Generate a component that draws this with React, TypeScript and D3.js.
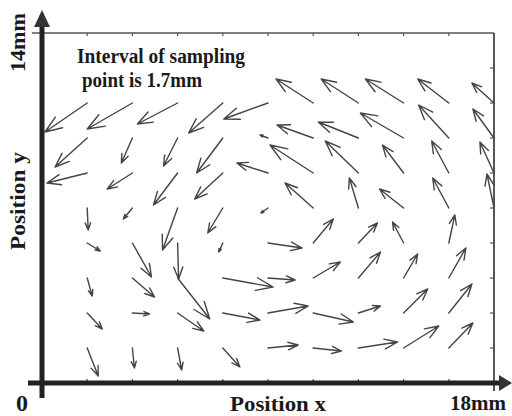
import React from "react";
import * as d3 from "d3";

// Axis domains (mm)
const xDomain = [0, 18];
const yDomain = [0, 14];
const xTicks = [1.8, 3.6, 5.4, 7.2, 9.0, 10.8, 12.6, 14.4, 16.2];
const yTicks = [1.4, 2.8, 4.2, 5.6, 7.0, 8.4, 9.8, 11.2, 12.6];

// Sampling grid (mm)
const gridX = [1.8, 3.6, 5.4, 7.2, 9.0, 10.8, 12.6, 14.4, 16.2, 18.0];
const gridY = [1.4, 2.8, 4.2, 5.6, 7.0, 8.4, 9.8, 11.2];

// Vector components (mm), one row per gridY value, one column per gridX value
const U = [
  [0.44, 0.08, 0.16, 0.68, 1.2, 1.12, 1.56, 1.4, 0.96, null],
  [0.6, 0.68, 1.04, 1.48, 1.6, 1.6, 0.88, 0.96, 0.92, null],
  [0.2, 0.88, 1.28, 2.0, 1.08, 1.08, 0.88, 0.56, 0.68, null],
  [0.52, 0.76, 0.04, -0.16, 1.36, 0.8, 0.76, -0.44, 0.24, null],
  [0.04, -0.36, -0.6, -0.6, -0.28, -1.12, -0.36, -0.96, -0.64, -0.28],
  [-1.6, -1.0, -0.96, -1.12, -1.24, -1.72, -1.32, -0.84, -0.68, -0.56],
  [-1.28, -0.44, -0.56, -1.04, -0.32, -1.44, -1.6, -1.72, -1.2, -0.84],
  [-1.68, -1.8, -1.6, -1.36, -1.76, -1.48, -1.48, -1.52, -1.24, -0.88],
];
const V = [
  [-1.12, -0.8, -0.88, -0.76, 0.12, -0.12, 0.24, 0.88, 1.0, null],
  [-0.64, -0.04, -0.72, -0.28, 0.28, -0.36, 0.28, 0.96, 1.16, null],
  [-0.72, -0.76, -1.64, -0.36, -0.08, 0.64, 1.04, 0.96, 1.2, null],
  [-0.32, -1.36, -1.44, -0.36, -0.2, 0.96, 0.8, 0.84, 1.12, null],
  [-0.88, -0.44, -1.68, -1.0, -0.2, 1.0, 1.2, 0.76, 1.2, 1.36],
  [-0.4, -0.64, -1.28, -1.04, 0.4, 1.12, 1.28, 1.12, 1.28, 1.24],
  [-1.16, -1.0, -1.12, -1.4, 0.12, 0.52, 0.64, 1.0, 1.32, 1.16],
  [-1.16, -1.04, -0.84, -1.2, -0.64, 0.96, 0.96, 0.96, 0.96, 0.8],
];

const noteLines = ["Interval of sampling", "point is 1.7mm"];
const xLabel = "Position x";
const yLabel = "Position y";
const xMaxLabel = "18mm";
const yMaxLabel = "14mm";
const originLabel = "0";

const FONT = "'Liberation Serif', 'Times New Roman', serif";

export default function App() {
  const W = 512;
  const H = 416;
  const x = d3.scaleLinear().domain(xDomain).range([42, 494]);
  const y = d3.scaleLinear().domain(yDomain).range([383, 33]);

  const arrows: string[] = [];
  gridY.forEach((gy, i) => {
    gridX.forEach((gx, j) => {
      const u = U[i][j];
      const v = V[i][j];
      if (u === null || v === null) return;
      const x0 = x(gx);
      const y0 = y(gy);
      const x1 = x(gx + u);
      const y1 = y(gy + v);
      const dx = x1 - x0;
      const dy = y1 - y0;
      const alpha = 0.33;
      const beta = 0.38;
      const p = d3.path();
      p.moveTo(x0, y0);
      p.lineTo(x1, y1);
      p.moveTo(x1 - alpha * (dx + beta * dy), y1 - alpha * (dy - beta * dx));
      p.lineTo(x1, y1);
      p.lineTo(x1 - alpha * (dx - beta * dy), y1 - alpha * (dy + beta * dx));
      arrows.push(p.toString());
    });
  });

  const x0 = x(0);
  const xEnd = x(18);
  const yTop = y(14);
  const yBase = y(0);

  return (
    <svg width={W} height={H} viewBox={`0 0 ${W} ${H}`} style={{ display: "block", position: "absolute", left: 0, top: 0, background: "#fff" }}>
      <rect x={0} y={0} width={W} height={H} fill="#fff" />
      {/* frame: top and right borders */}
      <line x1={32} y1={yTop} x2={xEnd} y2={yTop} stroke="#555" strokeWidth={1.6} />
      <line x1={xEnd} y1={yTop} x2={xEnd} y2={yBase + 8} stroke="#444" strokeWidth={1.8} />
      {xTicks.map((t) => (
        <line key={"xt" + t} x1={x(t)} x2={x(t)} y1={yTop} y2={yTop + 3} stroke="#555" strokeWidth={1.2} />
      ))}
      {yTicks.map((t) => (
        <line key={"yt" + t} x1={xEnd} x2={xEnd - 4} y1={y(t)} y2={y(t)} stroke="#555" strokeWidth={1.2} />
      ))}
      {xTicks.map((t) => (
        <line key={"xb" + t} x1={x(t)} x2={x(t)} y1={yBase} y2={yBase - 4} stroke="#555" strokeWidth={1.2} />
      ))}

      {/* arrows */}
      <g fill="none" stroke="#444" strokeWidth={1.4} strokeLinecap="round" strokeLinejoin="round">
        {arrows.map((d, i) => (
          <path key={i} d={d} />
        ))}
      </g>

      {/* main axes */}
      <line x1={x0} y1={398} x2={x0} y2={24} stroke="#222" strokeWidth={5} />
      <polygon points={`${x0},10 ${x0 - 8},27 ${x0 + 8},27`} fill="#333" />
      <line x1={28} y1={yBase} x2={501} y2={yBase} stroke="#222" strokeWidth={5} />
      <polygon points={`512,${yBase} 499,${yBase - 8} 499,${yBase + 8}`} fill="#333" />

      {/* note */}
      <g fontFamily={FONT} fontWeight="bold" fill="#1a1a1a">
        <text x={77} y={63} fontSize={20} textLength={168} lengthAdjust="spacingAndGlyphs">
          {noteLines[0]}
        </text>
        <text x={82} y={87} fontSize={20} textLength={120} lengthAdjust="spacingAndGlyphs">
          {noteLines[1]}
        </text>

        {/* axis labels */}
        <text x={230} y={411} fontSize={22} textLength={96} lengthAdjust="spacingAndGlyphs">
          {xLabel}
        </text>
        <text x={450} y={410} fontSize={21} textLength={56} lengthAdjust="spacingAndGlyphs">
          {xMaxLabel}
        </text>
        <text x={16} y={411} fontSize={24}>
          {originLabel}
        </text>
        <text
          transform="translate(25,201) rotate(-90)"
          textAnchor="middle"
          fontSize={21}
          textLength={98}
          lengthAdjust="spacingAndGlyphs"
        >
          {yLabel}
        </text>
        <text
          transform="translate(25,42.5) rotate(-90)"
          textAnchor="middle"
          fontSize={21}
          textLength={59}
          lengthAdjust="spacingAndGlyphs"
        >
          {yMaxLabel}
        </text>
      </g>
    </svg>
  );
}
